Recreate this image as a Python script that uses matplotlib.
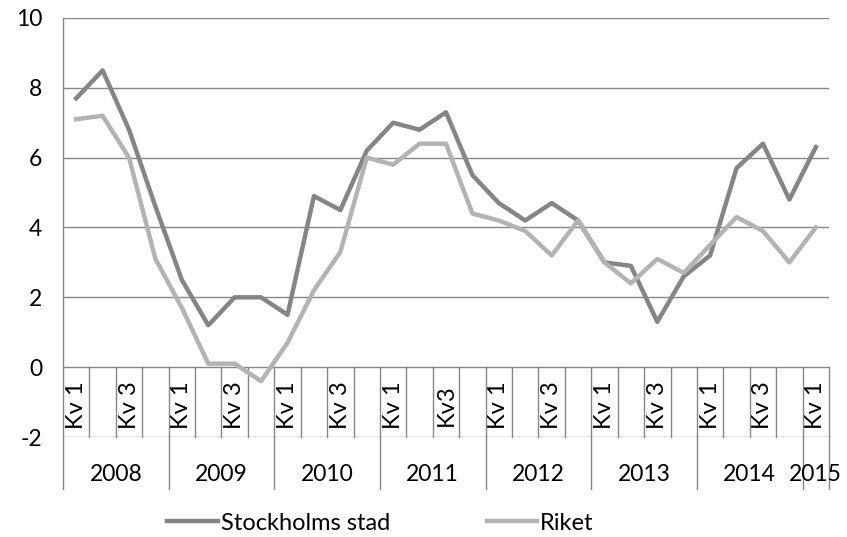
import matplotlib.pyplot as plt

# data
years = ["2008", "2009", "2010", "2011", "2012", "2013", "2014", "2015"]
quarters_per_year = [4, 4, 4, 4, 4, 4, 4, 1]
kv_labels = ["Kv 1", "", "Kv 3", "",
             "Kv 1", "", "Kv 3", "",
             "Kv 1", "", "Kv 3", "",
             "Kv 1", "", "Kv3", "",
             "Kv 1", "", "Kv 3", "",
             "Kv 1", "", "Kv 3", "",
             "Kv 1", "", "Kv 3", "",
             "Kv 1"]
stockholm = [7.7, 8.5, 6.8, 4.6, 2.5, 1.2, 2.0, 2.0, 1.5, 4.9, 4.5, 6.2,
             7.0, 6.8, 7.3, 5.5, 4.7, 4.2, 4.7, 4.2, 3.0, 2.9, 1.3, 2.6,
             3.2, 5.7, 6.4, 4.8, 6.3]
riket = [7.1, 7.2, 6.0, 3.1, 1.7, 0.1, 0.1, -0.4, 0.7, 2.2, 3.3, 6.0,
         5.8, 6.4, 6.4, 4.4, 4.2, 3.9, 3.2, 4.2, 3.0, 2.4, 3.1, 2.7,
         3.5, 4.3, 3.9, 3.0, 4.0]

plt.rcParams['font.family'] = ['Lato', 'DejaVu Sans']
plt.rcParams['axes.unicode_minus'] = False
grid_col = '#868686'

fig = plt.figure(figsize=(8.47, 5.37), dpi=100)
ax = fig.add_axes([63 / 847, 1 - 437 / 537, 766 / 847, 419 / 537])

n = len(stockholm)
x = list(range(n))
ax.plot(x, stockholm, color='#858585', lw=3.2, label='Stockholms stad', zorder=3)
ax.plot(x, riket, color='#b3b3b3', lw=3.2, label='Riket', zorder=3)

ax.set_xlim(-0.5, n - 0.5)
ax.set_ylim(-2, 10)
ax.set_yticks(range(-2, 11, 2))
ax.tick_params(axis='y', length=0, labelsize=16.5, pad=15)
ax.set_xticks([])
for yv in range(-2, 11, 2):
    ax.axhline(yv, color=grid_col, lw=1.0, zorder=1)
for s in ['top', 'right', 'bottom', 'left']:
    ax.spines[s].set_visible(False)

# left axis line, extends down through the year row
ax.plot([-0.5, -0.5], [10, -3.5], color=grid_col, lw=1.0, clip_on=False)

# quarter boxes
for k in range(n):
    ax.plot([k + 0.5, k + 0.5], [0, -2], color=grid_col, lw=1.0, clip_on=False)
    if kv_labels[k]:
        ax.text(k, -1.09, kv_labels[k], rotation=90, ha='center', va='center',
                fontsize=17)

# year groups
start = 0
for yr, cnt in zip(years, quarters_per_year):
    end = start + cnt
    ax.plot([end - 0.5, end - 0.5], [-2, -3.5], color=grid_col, lw=1.0,
            clip_on=False)
    ax.text((start + end - 1) / 2, -3.08, yr, ha='center', va='center',
            fontsize=16.5, clip_on=False)
    start = end

fig.legend(loc='center', bbox_to_anchor=(0.449, 0.026), ncol=2, frameon=False,
           fontsize=17, handlelength=2.15, handletextpad=0.1, columnspacing=4.1)

plt.savefig("out.png", dpi=100)
plt.close()
